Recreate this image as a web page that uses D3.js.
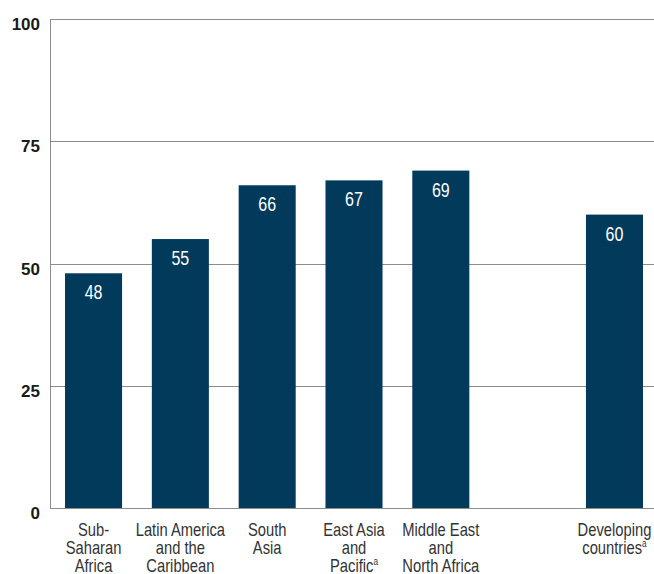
<!DOCTYPE html>
<html>
<head>
<meta charset="utf-8">
<script src="https://cdn.jsdelivr.net/npm/d3@7"></script>
<style>
  html, body { margin: 0; padding: 0; background: #fff; }
  svg { display: block; }
</style>
</head>
<body>
<svg id="chart" width="654" height="574"></svg>
<script>
// ---- data ----
const categories = ["Sub-Saharan Africa", "Latin America and the Caribbean", "South Asia",
  "East Asia and Pacific", "Middle East and North Africa", "gap", "Developing countries"];
const values = [48, 55, 66, 67, 69, null, 60];
const labelLines = [
  ["Sub-", "Saharan", "Africa"],
  ["Latin America", "and the", "Caribbean"],
  ["South", "Asia"],
  ["East Asia", "and", "Pacific"],
  ["Middle East", "and", "North Africa"],
  [],
  ["Developing", "countries"]
];
const footnoteMark = [false, false, false, true, false, false, true];
const yTicks = [0, 25, 50, 75, 100];

(function () {
// ---- layout ----
const svg = d3.select("#chart");
const mLeft = 50, mRight = 658, mTop = 19, mBottom = 508;
const barColor = "#023a5b";
const gridColor = "#8c8c8c";
const narrowFont = "'Liberation Sans', Arial, sans-serif";

const x = d3.scaleBand().domain(categories).range([mLeft, mRight])
  .paddingInner(0.343).paddingOuter(0.173);
const y = d3.scaleLinear().domain([0, 100]).range([mBottom, mTop]);

// gridlines
svg.append("g").selectAll("line").data(yTicks).join("line")
  .attr("x1", mLeft).attr("x2", 654)
  .attr("y1", d => Math.round(y(d)) + 0.5).attr("y2", d => Math.round(y(d)) + 0.5)
  .attr("stroke", gridColor).attr("stroke-width", 1);

// left axis line
svg.append("line")
  .attr("x1", mLeft + 0.5).attr("x2", mLeft + 0.5)
  .attr("y1", Math.round(y(100))).attr("y2", Math.round(y(0)) + 1)
  .attr("stroke", gridColor).attr("stroke-width", 1);

// y tick labels
svg.append("g").selectAll("text").data(yTicks).join("text")
  .attr("x", 40).attr("y", d => y(d) + 11)
  .attr("text-anchor", "end")
  .attr("font-family", "'Liberation Sans', Arial, sans-serif")
  .attr("font-weight", "bold").attr("font-size", 17)
  .attr("fill", "#1a1a1a")
  .text(d => d);

const data = categories.map((c, i) => ({ c, v: values[i], lines: labelLines[i], fn: footnoteMark[i] }));
const barData = data.filter(d => d.v != null);

// bars
svg.append("g").selectAll("rect").data(barData).join("rect")
  .attr("x", d => x(d.c)).attr("width", x.bandwidth())
  .attr("y", d => y(d.v)).attr("height", d => y(0) - y(d.v))
  .attr("fill", barColor);

// value labels
svg.append("g").selectAll("g").data(barData).join("g")
  .attr("transform", d => `translate(${x(d.c) + x.bandwidth() / 2},${y(d.v) + 26})`)
  .append("text")
  .attr("transform", "scale(0.8,1)")
  .attr("text-anchor", "middle")
  .attr("font-family", narrowFont).attr("font-size", 20)
  .attr("fill", "#fff")
  .text(d => d.v);

// category labels
const lab = svg.append("g").selectAll("g").data(data).join("g")
  .attr("transform", d => `translate(${x(d.c) + x.bandwidth() / 2},0)`)
  .append("text")
  .attr("transform", "scale(0.82,1)")
  .attr("text-anchor", "middle")
  .attr("font-family", narrowFont).attr("font-size", 18)
  .attr("fill", "#333");
lab.each(function(d) {
  const t = d3.select(this);
  d.lines.forEach((line, j) => {
    const isLast = j === d.lines.length - 1;
    t.append("tspan").attr("x", 0).attr("y", mBottom + 28 + j * 18).text(line);
    if (isLast && d.fn) {
      t.append("tspan").attr("font-size", 10).attr("dy", -7).text("a");
    }
  });
});
})();
</script>
</body>
</html>
